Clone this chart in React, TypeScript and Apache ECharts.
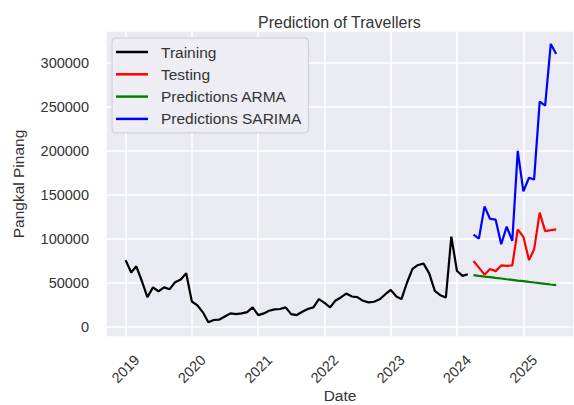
import React, { useEffect, useRef } from "react";
import * as echarts from "echarts";

// Monthly traveller counts (Pangkal Pinang)
const trainingStart: [number, number] = [2019, 1];
const trainingValues = [
  76000, 62000, 69000, 52000, 34000, 45000, 40500, 45000, 43000, 51000, 54000, 61000,
  29000, 24500, 17000, 5500, 8000, 8500, 12000, 15500, 14700, 15500, 17000, 22300,
  13600, 15500, 18500, 20000, 20500, 22300, 14700, 13600, 17300, 20500, 22300, 31700,
  27500, 22300, 29800, 33600, 38000, 34700, 34000, 29800, 28000, 28700, 31500, 37000,
  42200, 34700, 31700, 50600, 66000, 70500, 72000, 61000, 41000, 36200, 33600, 102700,
  63700, 58100, 60000,
];

const testingStart: [number, number] = [2024, 4];
const testingValues = [
  75000, 67500, 59500, 66000, 63500, 70000, 69500, 70000,
  111000, 102500, 76000, 88000, 130000, 109000, 110000, 111000,
];

const armaValues = [
  58900, 58100, 57300, 56600, 55800, 55100, 54300, 53600,
  52800, 52100, 51300, 50600, 49800, 49100, 48300, 47600,
];

const sarimaValues = [
  105000, 100500, 137000, 123000, 122000, 94000, 114000, 98000,
  200000, 154000, 169500, 167500, 256000, 251500, 321500, 310000,
];

const xMin = "2018-09-15";
const xMax = "2025-10-07";
const yMin = -11300;
const yMax = 336200;

function monthDates(start: [number, number], count: number): string[] {
  const out: string[] = [];
  for (let i = 0; i < count; i++) {
    const m = start[1] - 1 + i;
    const y = start[0] + Math.floor(m / 12);
    const mm = (m % 12) + 1;
    out.push(`${y}-${String(mm).padStart(2, "0")}-01`);
  }
  return out;
}

function pairs(start: [number, number], values: number[]) {
  const dates = monthDates(start, values.length);
  return values.map((v, i) => [dates[i], v]);
}

const TEXT = "#333333";
const FONT = "Liberation Sans, Arial, sans-serif";
const YEAR_MS = 365 * 24 * 3600 * 1000;

export default function App() {
  const ref = useRef<HTMLDivElement>(null);

  useEffect(() => {
    if (!ref.current) return;
    const chart = echarts.init(ref.current, undefined, { renderer: "svg" });
    const line = (name: string, color: string, data: any[]) => ({
      name,
      type: "line",
      data,
      symbol: "none",
      showSymbol: false,
      color,
      lineStyle: { color, width: 2.2 },
    });
    chart.setOption({
      animation: false,
      textStyle: { fontFamily: FONT },
      title: {
        text: "Prediction of Travellers",
        left: 253,
        top: 9,
        textStyle: { fontSize: 16, fontWeight: "normal", color: TEXT, fontFamily: FONT },
      },
      legend: {
        orient: "vertical",
        left: 112,
        top: 38,
        icon: "rect",
        itemWidth: 32,
        itemHeight: 2.5,
        itemGap: 6.3,
        padding: [6, 7, 6, 4],
        backgroundColor: "#EDEDF3",
        borderColor: "#CCCCD2",
        borderWidth: 1,
        borderRadius: 4,
        textStyle: {
          fontSize: 15.5,
          lineHeight: 15,
          color: TEXT,
          fontFamily: FONT,
          padding: [0, 0, 0, 8],
        },
        data: ["Training", "Testing", "Predictions ARMA", "Predictions SARIMA"],
      },
      grid: {
        left: 106,
        right: 0,
        top: 31,
        bottom: 68,
        show: true,
        backgroundColor: "#EAEAF2",
        borderWidth: 0,
        containLabel: false,
        outerBoundsMode: "none",
      },
      xAxis: {
        type: "time",
        min: xMin,
        max: xMax,
        minInterval: YEAR_MS,
        maxInterval: YEAR_MS + 24 * 3600 * 1000,
        name: "Date",
        nameLocation: "middle",
        nameGap: 50,
        nameMoveOverlap: false,
        nameTextStyle: { fontSize: 15.5, lineHeight: 16, color: TEXT, fontFamily: FONT },
        axisLine: { show: false },
        axisTick: { show: false },
        axisLabel: {
          rotate: 45,
          align: "center",
          margin: 32,
          fontSize: 14.5,
          color: TEXT,
          fontFamily: FONT,
          showMinLabel: false,
          showMaxLabel: false,
          formatter: (v: number) => String(new Date(v).getFullYear()),
        },
        splitLine: { show: true, lineStyle: { color: "#FFFFFF", width: 1.5 } },
      },
      yAxis: {
        type: "value",
        min: yMin,
        max: yMax,
        name: "Pangkal Pinang",
        nameLocation: "middle",
        nameGap: 80,
        nameRotate: 90,
        nameMoveOverlap: false,
        nameTextStyle: { fontSize: 15.5, color: TEXT, fontFamily: FONT },
        axisLine: { show: false },
        axisTick: { show: false },
        axisLabel: {
          margin: 17,
          fontSize: 14.5,
          color: TEXT,
          fontFamily: FONT,
          showMinLabel: false,
          showMaxLabel: false,
          formatter: (v: number) => String(v),
        },
        splitLine: { show: true, lineStyle: { color: "#FFFFFF", width: 1.5 } },
      },
      series: [
        line("Training", "#000000", pairs(trainingStart, trainingValues)),
        line("Testing", "#FF0000", pairs(testingStart, testingValues)),
        line("Predictions ARMA", "#008000", pairs(testingStart, armaValues)),
        line("Predictions SARIMA", "#0000FF", pairs(testingStart, sarimaValues)),
      ],
    });
    return () => chart.dispose();
  }, []);

  return (
    <div
      ref={ref}
      style={{ position: "fixed", left: 0, top: 0, width: 574, height: 405, background: "#FFFFFF" }}
    />
  );
}
